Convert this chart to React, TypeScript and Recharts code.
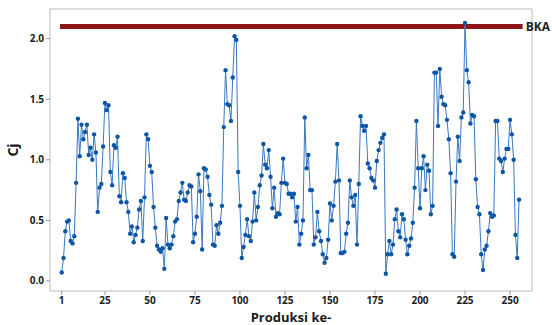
import { LineChart, Line, XAxis, YAxis, ReferenceLine, ReferenceArea } from 'recharts'

const cjValues = [
  0.07, 0.19, 0.41, 0.49, 0.5, 0.33, 0.31, 0.37, 0.81, 1.34,
  1.03, 1.29, 1.17, 1.23, 1.29, 1.04, 1.1, 1.0, 1.21, 1.06,
  0.57, 0.77, 0.8, 1.11, 1.47, 1.41, 1.45, 0.9, 0.79, 1.12,
  1.1, 1.19, 0.7, 0.65, 0.89, 0.85, 0.65, 0.57, 0.39, 0.45,
  0.32, 0.38, 0.44, 0.59, 0.66, 0.33, 0.69, 1.21, 1.17, 0.95,
  0.9, 0.61, 0.44, 0.29, 0.26, 0.24, 0.27, 0.1, 0.52, 0.3,
  0.27, 0.3, 0.37, 0.49, 0.51, 0.66, 0.73, 0.81, 0.67, 0.66,
  0.73, 0.79, 0.78, 0.32, 0.39, 0.53, 0.88, 0.74, 0.26, 0.93,
  0.92, 0.86, 0.71, 0.63, 0.3, 0.29, 0.46, 0.39, 0.48, 0.62,
  1.27, 1.74, 1.46, 1.45, 1.32, 1.68, 2.02, 1.99, 0.9, 0.62,
  0.19, 0.28, 0.38, 0.51, 0.37, 0.33, 0.49, 0.73, 0.5, 0.61,
  0.79, 0.87, 1.13, 0.96, 0.93, 1.08, 0.86, 0.6, 0.77, 0.53,
  0.56, 0.55, 0.81, 1.01, 0.81, 0.8, 0.72, 0.72, 0.69, 0.72,
  0.49, 0.61, 0.3, 0.39, 0.5, 1.35, 0.93, 1.04, 0.75, 0.75,
  0.3, 0.36, 0.57, 0.41, 0.33, 0.22, 0.15, 0.19, 0.34, 0.64,
  0.5, 0.62, 0.82, 1.13, 0.83, 0.23, 0.23, 0.24, 0.39, 0.48,
  0.83, 0.69, 0.62, 0.71, 0.3, 0.8, 1.36, 1.28, 1.24, 1.28,
  0.97, 0.93, 0.85, 0.83, 0.77, 0.99, 1.08, 1.14, 1.18, 1.21,
  0.06, 0.22, 0.33, 0.22, 0.3, 0.51, 0.59, 0.41, 0.36, 0.55,
  0.51, 0.34, 0.22, 0.29, 0.35, 0.48, 0.77, 1.32, 0.93, 0.6,
  0.93, 1.03, 0.75, 0.96, 0.91, 0.55, 0.62, 1.72, 1.72, 1.28,
  1.75, 1.52, 1.46, 1.45, 1.33, 1.17, 0.89, 0.22, 0.2, 0.82,
  1.19, 0.99, 1.35, 1.39, 2.13, 1.74, 1.64, 1.3, 1.37, 1.36,
  0.84, 0.61, 0.55, 0.22, 0.09, 0.26, 0.29, 0.41, 0.56, 0.53,
  0.54, 1.32, 1.32, 1.01, 0.99, 0.9, 1.01, 1.09, 1.09, 1.33,
  1.21, 1.0, 0.38, 0.19, 0.67,
]

const produksi = cjValues.map((_, i) => i + 1)
const xTicks = [1, 25, 50, 75, 100, 125, 150, 175, 200, 225, 250]
const yTicks = [0, 0.5, 1, 1.5, 2]
const bka = 2.1

const X_DOMAIN: [number, number] = [-5.5, 262.2]
const Y_DOMAIN: [number, number] = [-0.083, 2.245]

const data = produksi.map((p, i) => ({ produksi: p, cj: cjValues[i] }))

const font = '"Open Sans", "Noto Sans", sans-serif'
const tickStyle = { fontSize: 10, fontWeight: 700, fill: '#1a1a1a', fontFamily: font }

export default function App() {
  return (
    <div style={{ position: 'absolute', left: 0, top: 0, background: '#fff' }}>
      <LineChart width={552} height={325} data={data} margin={{ top: 9, right: 20, left: 0, bottom: 0 }}>
        <ReferenceArea
          x1={X_DOMAIN[0]}
          x2={X_DOMAIN[1]}
          y1={Y_DOMAIN[0]}
          y2={Y_DOMAIN[1]}
          fill="none"
          stroke="#b8b8b8"
          strokeWidth={1}
          fillOpacity={0}
        />
        <XAxis
          dataKey="produksi"
          type="number"
          domain={X_DOMAIN}
          ticks={xTicks}
          allowDataOverflow
          height={34}
          axisLine={false}
          tickLine={{ stroke: '#9a9a9a' }}
          tickSize={4}
          tick={tickStyle}
          label={{
            value: 'Produksi ke-',
            position: 'insideBottom',
            offset: 3,
            style: { fontSize: 13, fontWeight: 700, fill: '#1a1a1a', fontFamily: font },
          }}
        />
        <YAxis
          type="number"
          domain={Y_DOMAIN}
          ticks={yTicks}
          allowDataOverflow
          width={50}
          axisLine={false}
          tickLine={{ stroke: '#9a9a9a' }}
          tickSize={4}
          tick={tickStyle}
          tickFormatter={(v: number) => v.toFixed(1)}
          label={{
            value: 'Cj',
            angle: -90,
            position: 'insideLeft',
            offset: 13,
            style: { fontSize: 14, fontWeight: 700, fill: '#1a1a1a', fontFamily: font, textAnchor: 'middle' },
          }}
        />
        <ReferenceLine
          segment={[{ x: 0, y: bka }, { x: 257, y: bka }]}
          stroke="#8e1616"
          strokeWidth={5}
          label={{
            value: 'BKA',
            position: 'right',
            offset: 3,
            style: { fontSize: 12, fontWeight: 700, fill: '#222', fontFamily: font },
          }}
        />
        <Line
          dataKey="cj"
          type="linear"
          stroke="#3a78c0"
          strokeWidth={1}
          dot={{ r: 2.2, fill: '#0d56a6', stroke: 'none' }}
          isAnimationActive={false}
        />
      </LineChart>
    </div>
  )
}
